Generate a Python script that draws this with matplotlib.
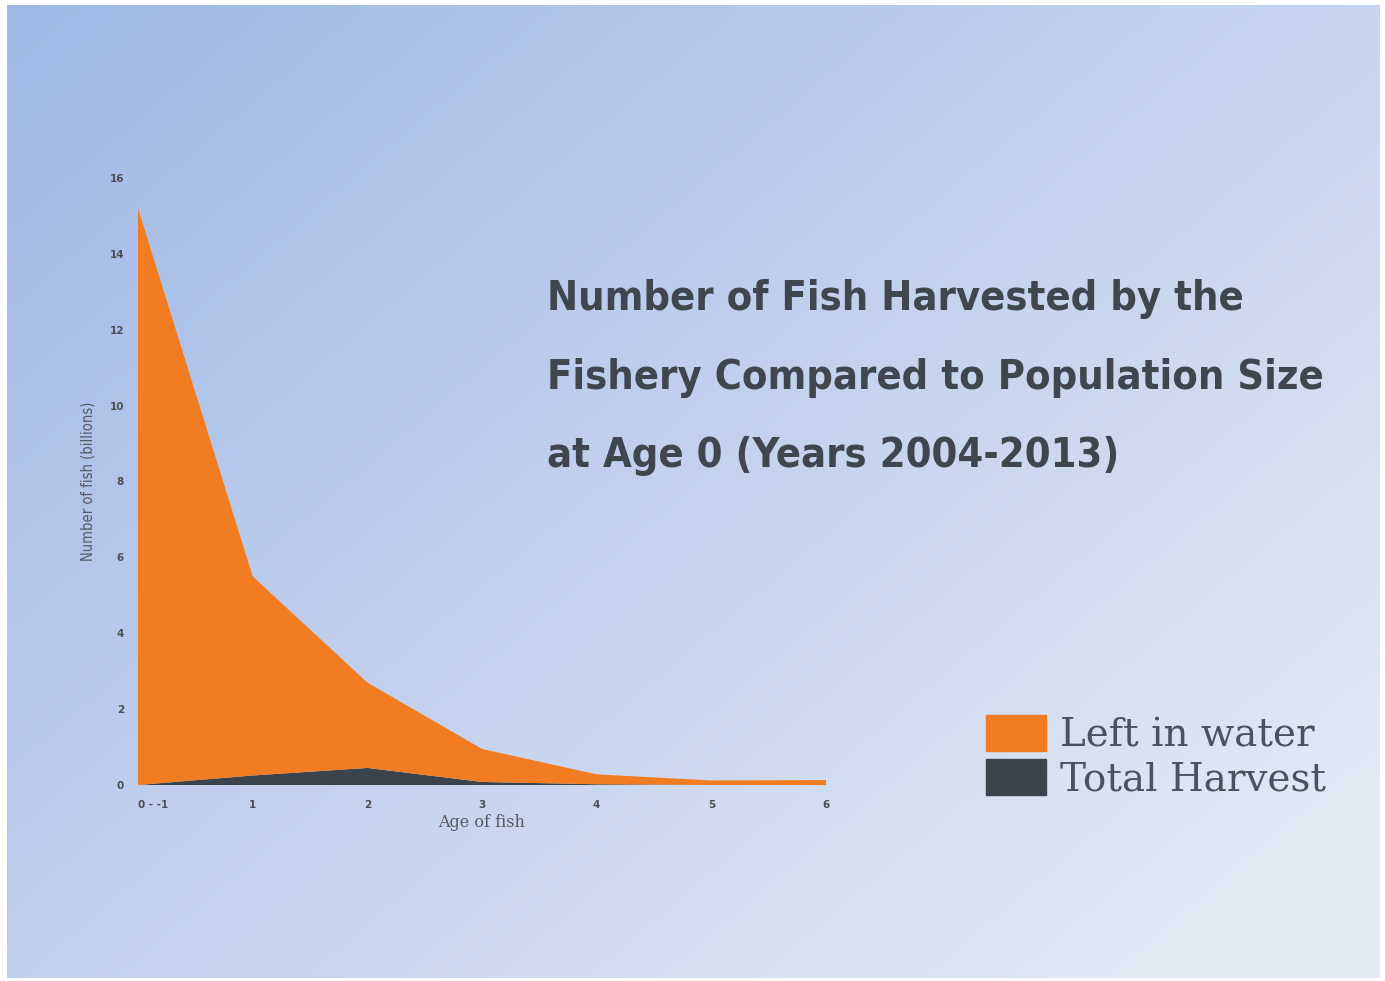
import numpy as np
import matplotlib
matplotlib.use("Agg")
import matplotlib.pyplot as plt
from matplotlib.patches import Patch
from matplotlib import font_manager

ages = [0, 1, 2, 3, 4, 5, 6]
age_labels = ["0 - -1", "1", "2", "3", "4", "5", "6"]
total_harvest = [0.0, 0.25, 0.45, 0.08, 0.02, 0.0, 0.0]
left_in_water = [15.2, 5.25, 2.25, 0.87, 0.26, 0.12, 0.13]
title_lines = ["Number of Fish Harvested by the",
               "Fishery Compared to Population Size",
               "at Age 0 (Years 2004-2013)"]

orange = "#f27c21"
dark = "#3b444d"
text_col = "#3f4650"


def find_condensed(bold):
    # look for any narrow / condensed face among installed fonts
    best = None
    for f in font_manager.fontManager.ttflist:
        tag = (f.fname + " " + f.name).lower()
        if not ("condensed" in tag or "narrow" in tag or f.stretch in ("condensed", "semi-condensed")):
            continue
        if "italic" in tag or "oblique" in tag or f.style != "normal":
            continue
        w = f.weight if isinstance(f.weight, int) else {"bold": 700, "normal": 400}.get(f.weight, 400)
        score = -abs(w - (700 if bold else 400))
        if best is None or score > best[0]:
            best = (score, f.fname)
    if best is None:
        return font_manager.FontProperties(family="DejaVu Sans", weight="bold" if bold else "normal")
    return font_manager.FontProperties(fname=best[1])


title_font = find_condensed(True)
ylab_font = find_condensed(False)

fig = plt.figure(figsize=(13.85, 9.81), dpi=100)
fig.patch.set_facecolor("white")

# gradient background panel
bg = fig.add_axes([7 / 1385, 3 / 981, 1373 / 1385, 973 / 981])
ny, nx = 200, 300
yy, xx = np.mgrid[0:1:ny * 1j, 0:1:nx * 1j]
t = np.clip(0.6 * xx + 0.5 * yy, 0, 1)
top_left = np.array([0.62, 0.72, 0.90])
bot_right = np.array([0.89, 0.91, 0.96])
img = top_left[None, None, :] * (1 - t[..., None]) + bot_right[None, None, :] * t[..., None]
bg.imshow(img, aspect="auto", extent=[0, 1, 0, 1], origin="upper", interpolation="bilinear")
bg.set_axis_off()

ax = fig.add_axes([138 / 1385, 196 / 981, 688 / 1385, 607 / 981])
ax.patch.set_alpha(0)
ax.stackplot(ages, total_harvest, left_in_water, colors=[dark, orange], linewidth=0)
ax.set_xlim(0, 6)
ax.set_ylim(0, 16)
ax.set_xticks(ages)
ax.set_xticklabels(age_labels)
ax.set_yticks(range(0, 17, 2))
for s in ax.spines.values():
    s.set_visible(False)
ax.tick_params(length=0, labelsize=7.5, colors="#4a4f57")
ax.tick_params(axis="x", pad=11)
ax.tick_params(axis="y", pad=10)
for lab in ax.get_xticklabels() + ax.get_yticklabels():
    lab.set_fontweight("bold")
ax.get_xticklabels()[0].set_horizontalalignment("left")
ax.set_xlabel("Age of fish", fontsize=11.5, color="#555a62", family="DejaVu Serif", labelpad=3)
yl = ax.set_ylabel("Number of fish (billions)", color="#555a62", fontproperties=ylab_font, labelpad=10)
yl.set_fontsize(10.5)

# title, one line per baseline as in the source, fitted to its width (547..1323 px)
baselines = [310, 389, 467]
texts = [fig.text(547 / 1385, 1 - b / 981, s, ha="left", va="baseline", fontproperties=title_font,
                  color=text_col) for s, b in zip(title_lines, baselines)]
for tx in texts:
    tx.set_fontsize(36)
fig.canvas.draw()
w = texts[1].get_window_extent().width
for tx in texts:
    tx.set_fontsize(min(44, 36 * 776 / w))

handles = [Patch(color=orange, label="Left in water"), Patch(color=dark, label="Total Harvest")]
fig.legend(handles=handles, loc="upper left", bbox_to_anchor=(951 / 1385, 1 - 680 / 981), frameon=False,
           prop={"family": "DejaVu Serif", "size": 28}, labelcolor="#4a5260",
           handlelength=1.55, handleheight=1.05, handletextpad=0.35, labelspacing=0.12)

fig.savefig("out.png", dpi=100)
